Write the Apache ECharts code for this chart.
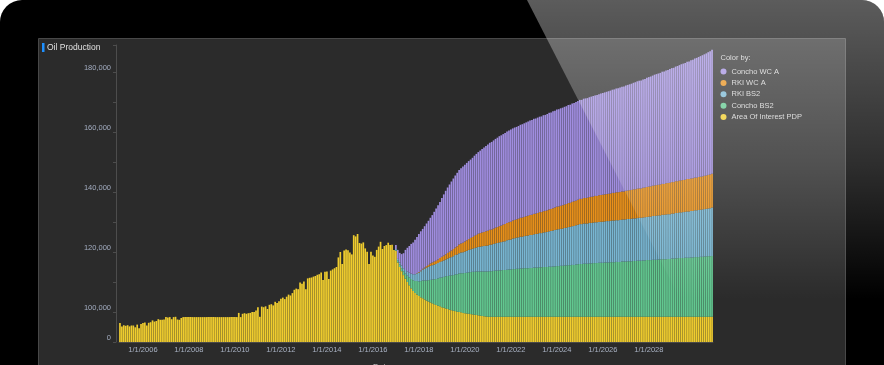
<!DOCTYPE html>
<html>
<head>
<meta charset="utf-8">
<script src="https://cdn.jsdelivr.net/npm/echarts@6/dist/echarts.min.js"></script>
<style>
html,body{margin:0;padding:0;background:#ffffff;}
#frame{position:absolute;left:0;top:0;width:884px;height:365px;background:#000;border-radius:22px 22px 0 0;overflow:hidden;}
#chart{position:absolute;left:0;top:0;width:884px;height:365px;}
</style>
</head>
<body>
<div id="frame"><div id="chart"></div></div>
<script>
// ---- data (thousand bbl) ----
const seriesNames = ['Concho WC A', 'RKI WC A', 'RKI BS2', 'Concho BS2', 'Area Of Interest PDP'];
const startYear = 2005;
const forecastStart = '1/1/2017';

const areaOfInterestPDP = [
  96.3, 95.2, 95.6, 95.4, 95.6, 95.2, 95.5, 95.5, 94.9, 95.8, 94.6, 96.0,
  96.3, 96.5, 95.5, 96.4, 96.6, 97.2, 96.8, 97.0, 97.6, 97.4, 97.4, 97.5,
  98.3, 98.2, 98.3, 97.6, 98.3, 98.4, 97.5, 97.4, 98.0, 98.3, 98.3, 98.3,
  98.3, 98.3, 98.3, 98.3, 98.3, 98.3, 98.3, 98.3, 98.3, 98.3, 98.3, 98.3,
  98.3, 98.3, 98.3, 98.3, 98.3, 98.3, 98.3, 98.3, 98.3, 98.3, 98.3, 98.3,
  98.3, 98.3, 99.7, 98.3, 99.4, 99.6, 99.4, 99.6, 99.7, 100.0, 100.0, 100.5,
  101.6, 98.4, 101.8, 101.6, 101.9, 101.0, 102.4, 102.6, 102.2, 103.4, 103.0, 103.6,
  104.4, 104.8, 104.3, 105.1, 105.8, 105.5, 106.3, 107.4, 107.8, 107.6, 109.8, 109.4,
  110.2, 107.6, 111.2, 111.4, 111.5, 111.8, 112.0, 112.4, 112.6, 113.2, 110.7, 113.4,
  113.5, 111.0, 113.8, 114.2, 114.6, 115.0, 118.2, 120.0, 116.0, 120.5, 120.8, 120.6,
  119.8, 119.2, 125.6, 125.2, 126.0, 123.0, 122.8, 123.2, 121.2, 120.1, 116.0, 120.1,
  118.8, 118.4, 120.7, 121.8, 123.4, 121.0, 122.0, 122.3, 123.1, 122.3, 122.4, 120.7,
  120.3, 116.5, 115.0, 113.6, 112.3, 111.1, 110.0, 108.9, 107.9, 107.0, 106.3, 105.8,
  105.3, 104.9, 104.6, 104.2, 103.8, 103.5, 103.2, 102.9, 102.6, 102.3, 102.1, 101.9,
  101.6, 101.4, 101.2, 101.0, 100.8, 100.6, 100.4, 100.3, 100.1, 100.0, 99.9, 99.7,
  99.6, 99.5, 99.4, 99.3, 99.2, 99.1, 99.0, 98.9, 98.8, 98.7, 98.6, 98.5,
  98.4, 98.4, 98.4, 98.4, 98.4, 98.4, 98.4, 98.4, 98.4, 98.4, 98.4, 98.4,
  98.4, 98.4, 98.4, 98.4, 98.4, 98.4, 98.4, 98.4, 98.4, 98.4, 98.4, 98.4,
  98.4, 98.4, 98.4, 98.4, 98.4, 98.4, 98.4, 98.4, 98.4, 98.4, 98.4, 98.4,
  98.4, 98.4, 98.4, 98.4, 98.4, 98.4, 98.4, 98.4, 98.4, 98.4, 98.4, 98.4,
  98.4, 98.4, 98.4, 98.4, 98.4, 98.4, 98.4, 98.4, 98.4, 98.4, 98.4, 98.4,
  98.4, 98.4, 98.4, 98.4, 98.4, 98.4, 98.4, 98.4, 98.4, 98.4, 98.4, 98.4,
  98.4, 98.4, 98.4, 98.4, 98.4, 98.4, 98.4, 98.4, 98.4, 98.4, 98.4, 98.4,
  98.4, 98.4, 98.4, 98.4, 98.4, 98.4, 98.4, 98.4, 98.4, 98.4, 98.4, 98.4,
  98.4, 98.4, 98.4, 98.4, 98.4, 98.4, 98.4, 98.4, 98.4, 98.4, 98.4, 98.4,
  98.4, 98.4, 98.4, 98.4, 98.4, 98.4, 98.4, 98.4, 98.4, 98.4
];

const conchoBS2 = [
  0.3, 0.6, 0.8, 1.0, 1.3, 1.7, 2.1, 2.6, 3.1, 3.6, 4.0, 4.5,
  4.9, 5.4, 5.9, 6.3, 6.7, 7.1, 7.5, 7.9, 8.3, 8.7, 9.1, 9.5,
  9.9, 10.3, 10.7, 11.0, 11.3, 11.6, 11.9, 12.2, 12.5, 12.8, 13.0, 13.2,
  13.4, 13.6, 13.8, 14.0, 14.2, 14.3, 14.5, 14.6, 14.7, 14.8, 14.9, 15.0,
  15.1, 15.2, 15.2, 15.3, 15.4, 15.4, 15.5, 15.5, 15.6, 15.6, 15.7, 15.8,
  15.8, 15.9, 15.9, 16.0, 16.0, 16.1, 16.1, 16.2, 16.2, 16.2, 16.3, 16.3,
  16.4, 16.4, 16.4, 16.5, 16.5, 16.6, 16.6, 16.6, 16.7, 16.7, 16.8, 16.8,
  16.9, 16.9, 17.0, 17.0, 17.1, 17.1, 17.2, 17.2, 17.3, 17.3, 17.4, 17.5,
  17.6, 17.6, 17.7, 17.7, 17.7, 17.8, 17.8, 17.9, 17.9, 17.9, 18.0, 18.0,
  18.0, 18.1, 18.1, 18.1, 18.2, 18.2, 18.2, 18.3, 18.3, 18.3, 18.4, 18.4,
  18.4, 18.5, 18.5, 18.5, 18.6, 18.6, 18.7, 18.7, 18.7, 18.8, 18.8, 18.9,
  18.9, 18.9, 19.0, 19.0, 19.0, 19.1, 19.1, 19.2, 19.2, 19.2, 19.3, 19.3,
  19.4, 19.4, 19.5, 19.5, 19.6, 19.6, 19.6, 19.7, 19.7, 19.7, 19.8, 19.8,
  19.9, 19.9, 19.9, 20.0, 20.0, 20.1, 20.1, 20.2, 20.2, 20.3
];

const rkiBS2 = [
  0.4, 0.6, 0.7, 0.9, 1.0, 1.2, 1.4, 1.6, 1.8, 2.0, 2.3, 2.6,
  3.0, 3.3, 3.7, 4.0, 4.3, 4.5, 4.7, 4.8, 4.9, 5.0, 5.1, 5.3,
  5.4, 5.5, 5.6, 5.8, 6.0, 6.1, 6.3, 6.5, 6.6, 6.8, 6.9, 7.0,
  7.2, 7.3, 7.5, 7.6, 7.7, 7.9, 8.0, 8.2, 8.3, 8.4, 8.5, 8.6,
  8.7, 8.8, 8.9, 9.0, 9.1, 9.2, 9.3, 9.4, 9.5, 9.6, 9.8, 9.9,
  10.0, 10.2, 10.3, 10.4, 10.5, 10.6, 10.6, 10.7, 10.8, 10.9, 11.0, 11.0,
  11.1, 11.2, 11.3, 11.4, 11.4, 11.5, 11.6, 11.7, 11.8, 11.9, 12.0, 12.1,
  12.2, 12.3, 12.3, 12.4, 12.5, 12.6, 12.7, 12.8, 12.9, 13.0, 13.1, 13.2,
  13.3, 13.3, 13.4, 13.4, 13.4, 13.5, 13.5, 13.5, 13.6, 13.6, 13.6, 13.7,
  13.7, 13.7, 13.8, 13.8, 13.8, 13.9, 13.9, 13.9, 13.9, 14.0, 14.0, 14.0,
  14.1, 14.1, 14.1, 14.2, 14.2, 14.2, 14.2, 14.3, 14.3, 14.3, 14.4, 14.4,
  14.5, 14.5, 14.6, 14.6, 14.7, 14.7, 14.7, 14.8, 14.8, 14.9, 14.9, 14.9,
  15.0, 15.0, 15.1, 15.1, 15.2, 15.2, 15.3, 15.3, 15.4, 15.4, 15.5, 15.5,
  15.6, 15.6, 15.7, 15.7, 15.8, 15.8, 15.9, 15.9, 16.0, 16.1
];

const rkiWCA = [
  0, 0, 0, 0, 0, 0, 0, 0, 0, 0, 0, 0.1,
  0.1, 0.2, 0.2, 0.3, 0.5, 0.6, 0.8, 0.9, 1.0, 1.1, 1.2, 1.3,
  1.5, 1.6, 1.7, 1.9, 2.0, 2.2, 2.4, 2.5, 2.7, 2.9, 3.0, 3.2,
  3.3, 3.5, 3.6, 3.8, 3.9, 4.1, 4.2, 4.4, 4.5, 4.6, 4.7, 4.8,
  4.9, 5.0, 5.0, 5.1, 5.2, 5.3, 5.4, 5.5, 5.6, 5.7, 5.8, 5.8,
  5.9, 6.0, 6.1, 6.1, 6.2, 6.3, 6.4, 6.4, 6.5, 6.6, 6.6, 6.7,
  6.8, 6.8, 6.9, 7.0, 7.0, 7.1, 7.1, 7.2, 7.3, 7.3, 7.4, 7.5,
  7.6, 7.6, 7.7, 7.8, 7.8, 7.9, 8.0, 8.0, 8.1, 8.2, 8.2, 8.3,
  8.4, 8.4, 8.5, 8.5, 8.6, 8.6, 8.7, 8.7, 8.8, 8.8, 8.9, 8.9,
  9.0, 9.0, 9.0, 9.1, 9.1, 9.2, 9.2, 9.3, 9.3, 9.3, 9.4, 9.4,
  9.5, 9.5, 9.6, 9.6, 9.7, 9.7, 9.8, 9.8, 9.8, 9.9, 9.9, 10.0,
  10.0, 10.1, 10.1, 10.2, 10.2, 10.2, 10.3, 10.3, 10.3, 10.4, 10.4, 10.5,
  10.5, 10.5, 10.6, 10.6, 10.6, 10.7, 10.7, 10.7, 10.8, 10.8, 10.8, 10.9,
  10.9, 10.9, 11.0, 11.0, 11.0, 11.1, 11.1, 11.2, 11.2, 11.3
];

const conchoWCA = [
  1.3, 3.0, 3.2, 3.8, 5.0, 6.7, 7.9, 8.9, 9.9, 10.6, 11.5, 12.0,
  12.7, 13.1, 13.3, 13.8, 14.2, 14.7, 15.2, 15.8, 16.6, 17.4, 18.1, 18.7,
  19.6, 20.4, 21.2, 21.8, 22.4, 23.0, 23.5, 24.0, 24.5, 24.8, 25.1, 25.4,
  25.6, 25.8, 26.0, 26.1, 26.4, 26.7, 27.0, 27.2, 27.5, 27.8, 28.1, 28.4,
  28.7, 29.0, 29.2, 29.4, 29.6, 29.8, 30.0, 30.1, 30.2, 30.4, 30.5, 30.6,
  30.7, 30.7, 30.8, 30.8, 30.9, 31.0, 31.1, 31.2, 31.3, 31.4, 31.5, 31.6,
  31.7, 31.7, 31.8, 31.8, 31.9, 32.0, 32.0, 32.1, 32.2, 32.2, 32.3, 32.3,
  32.4, 32.4, 32.5, 32.5, 32.6, 32.6, 32.7, 32.7, 32.8, 32.8, 32.9, 32.9,
  33.0, 33.0, 33.1, 33.2, 33.2, 33.3, 33.4, 33.5, 33.5, 33.6, 33.7, 33.8,
  33.9, 34.0, 34.1, 34.2, 34.3, 34.4, 34.5, 34.6, 34.7, 34.8, 34.9, 35.0,
  35.1, 35.2, 35.3, 35.4, 35.5, 35.7, 35.8, 35.9, 36.0, 36.1, 36.2, 36.4,
  36.5, 36.6, 36.7, 36.9, 37.0, 37.1, 37.2, 37.4, 37.5, 37.6, 37.7, 37.9,
  38.0, 38.1, 38.2, 38.4, 38.5, 38.7, 38.8, 38.9, 39.1, 39.2, 39.4, 39.5,
  39.7, 39.9, 40.0, 40.2, 40.4, 40.5, 40.7, 40.9, 41.1, 41.3
];

const xTickLabels = ['1/1/2006','1/1/2008','1/1/2010','1/1/2012','1/1/2014','1/1/2016',
  '1/1/2018','1/1/2020','1/1/2022','1/1/2024','1/1/2026','1/1/2028'];
const yTickValues = [90, 100, 120, 140, 160, 180];
const yTickLabels = ['0', '100,000', '120,000', '140,000', '160,000', '180,000'];

const colors = {
  'Concho WC A': '#a08de0',
  'RKI WC A': '#e8901a',
  'RKI BS2': '#78b6d2',
  'Concho BS2': '#62c890',
  'Area Of Interest PDP': '#f0cd2e'
};

// ---- build ----
const categories = [];
for (let i = 0; i < areaOfInterestPDP.length; i++) {
  categories.push((i % 12 + 1) + '/1/' + (startYear + Math.floor(i / 12)));
}
const fStart = categories.indexOf(forecastStart);
function pad(arr) {
  return categories.map((c, i) => (i < fStart ? null : arr[i - fStart]));
}

const FONT = "'Liberation Sans', Arial, sans-serif";
const chart = echarts.init(document.getElementById('chart'), null, { renderer: 'canvas' });

function barSeries(name, data) {
  return {
    name: name,
    type: 'bar',
    stack: 'oil',
    data: data,
    barCategoryGap: '12%',
    itemStyle: { color: colors[name] },
    emphasis: { disabled: true },
    z: 2
  };
}

const option = {
  animation: false,
  backgroundColor: 'transparent',
  textStyle: { fontFamily: FONT },
  grid: { left: 119, right: 171, top: 45, bottom: 23, containLabel: false },
  xAxis: {
    type: 'category',
    data: categories,
    axisLine: { show: true, lineStyle: { color: '#4a4a4a', width: 1 } },
    axisTick: { show: false },
    axisLabel: {
      interval: (idx, val) => xTickLabels.indexOf(val) >= 0,
      color: '#a9b2c3', fontSize: 7.5, fontFamily: FONT, margin: 4
    },
    splitLine: { show: false }
  },
  yAxis: {
    type: 'value',
    min: 90, max: 189, interval: 10,
    offset: 3,
    axisLine: { show: true, lineStyle: { color: '#4d4d4d', width: 1 } },
    axisTick: { show: true, length: 3, lineStyle: { color: '#4d4d4d' } },
    axisLabel: {
      color: '#a3adc1', fontSize: 7.5, fontFamily: FONT, margin: 5,
      verticalAlign: 'bottom', lineHeight: 9,
      formatter: (v) => { const k = yTickValues.indexOf(Math.round(v)); return k >= 0 && Math.abs(v - yTickValues[k]) < 0.01 ? yTickLabels[k] : ''; }
    },
    splitLine: { show: false }
  },
  legend: {
    data: seriesNames,
    orient: 'vertical',
    left: 720.5, top: 67,
    padding: 0,
    icon: 'circle',
    itemWidth: 6, itemHeight: 6, itemGap: 2.4,
    selectedMode: false,
    textStyle: { color: '#d4d4d4', fontSize: 7.5, fontFamily: FONT, lineHeight: 9 }
  },
  graphic: [
    { type: 'rect', silent: true, z: -10, shape: { x: 38.5, y: 38.5, width: 807, height: 340 },
      style: { fill: '#2b2b2b', stroke: '#484848', lineWidth: 1 } },
    { type: 'rect', silent: true, z: 5, shape: { x: 42, y: 43, width: 2.5, height: 9 }, style: { fill: '#1e90ff' } },
    { type: 'text', silent: true, z: 5, x: 47, y: 47.5,
      style: { text: 'Oil Production', fill: '#e0e0e0', fontSize: 8.5, fontFamily: FONT, verticalAlign: 'middle' } },
    { type: 'text', silent: true, z: 5, x: 720.5, y: 57.5,
      style: { text: 'Color by:', fill: '#d4d4d4', fontSize: 7.5, fontFamily: FONT, verticalAlign: 'middle' } },
    { type: 'text', silent: true, z: 5, x: 373, y: 362.5,
      style: { text: 'Date', fill: '#cfcfcf', fontSize: 8, fontFamily: FONT, verticalAlign: 'top' } },
    { type: 'polygon', silent: true, z: 100,
      shape: { points: [[527, 0], [884, 0], [884, 365], [714, 365]] },
      style: { fill: { type: 'linear', x: 0, y: 0, x2: 0, y2: 1, colorStops: [
        { offset: 0, color: 'rgba(255,255,255,0.36)' },
        { offset: 0.45, color: 'rgba(255,255,255,0.18)' },
        { offset: 0.82, color: 'rgba(255,255,255,0.0)' },
        { offset: 1, color: 'rgba(255,255,255,0.0)' } ] } } }
  ],
  series: [
    barSeries('Area Of Interest PDP', areaOfInterestPDP),
    barSeries('Concho BS2', pad(conchoBS2)),
    barSeries('RKI BS2', pad(rkiBS2)),
    barSeries('RKI WC A', pad(rkiWCA)),
    barSeries('Concho WC A', pad(conchoWCA))
  ]
};
chart.setOption(option);
</script>
</body>
</html>
